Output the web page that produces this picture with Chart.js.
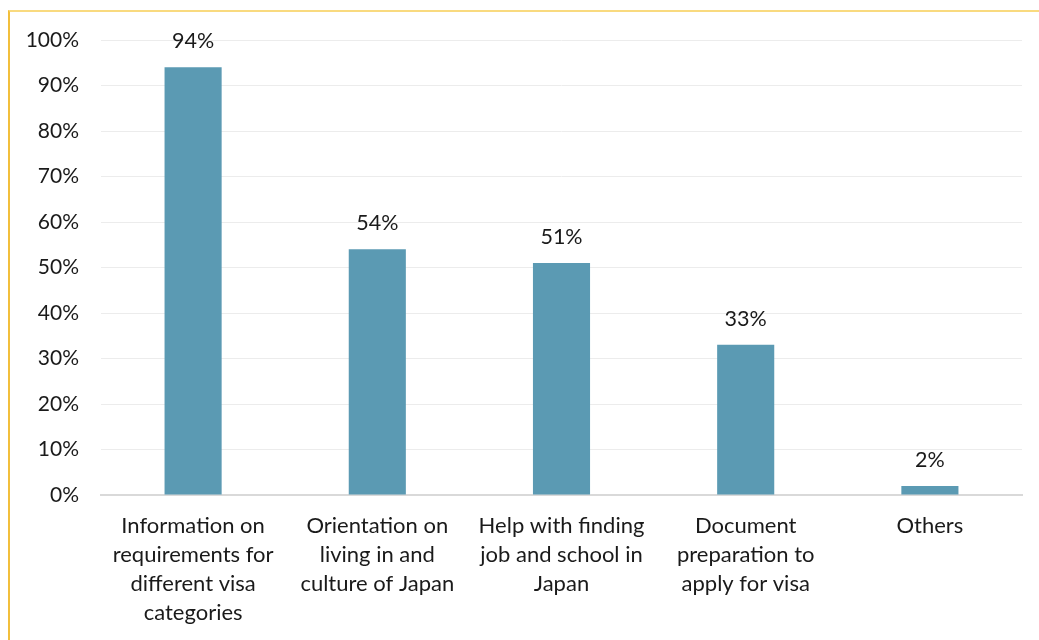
<!DOCTYPE html>
<html>
<head>
<meta charset="utf-8">
<script src="https://cdn.jsdelivr.net/npm/chart.js@4"></script>
<style>
  html, body { margin: 0; padding: 0; background: #fff; }
  #frame {
    position: absolute; left: 8px; top: 10px; right: 0; bottom: 0;
    border-top: 2px solid #f9da7f;
    border-left: 2px solid #f2bf3c;
  }
  #wrap { position: absolute; left: 0; top: 0; width: 1039px; height: 640px; }
</style>
</head>
<body>
<div id="frame"></div>
<div id="wrap"><canvas id="chart" width="1039" height="640"></canvas></div>
<script>
const categories = [
  ['Information on', 'requirements for', 'different visa', 'categories'],
  ['Orientation on', 'living in and', 'culture of Japan'],
  ['Help with finding', 'job and school in', 'Japan'],
  ['Document', 'preparation to', 'apply for visa'],
  ['Others']
];
const shares = [94, 54, 51, 33, 2];
const yTicks = [0, 10, 20, 30, 40, 50, 60, 70, 80, 90, 100];

const FONT = 'Lato, "Open Sans", sans-serif';

// percentage labels above each bar
const valueLabels = {
  id: 'valueLabels',
  afterDatasetsDraw(chart){
    const ctx = chart.ctx;
    const meta = chart.getDatasetMeta(0);
    ctx.save();
    ctx.font = '21.5px ' + FONT;
    ctx.fillStyle = '#1a1a1a';
    ctx.textAlign = 'center';
    ctx.textBaseline = 'middle';
    meta.data.forEach((bar, i) => {
      ctx.fillText(shares[i] + '%', bar.x, bar.y - 26);
    });
    ctx.restore();
  }
};

new Chart(document.getElementById('chart'), {
  type: 'bar',
  data: {
    labels: categories,
    datasets: [{
      data: shares,
      backgroundColor: '#5b9ab3',
      barPercentage: 0.62,
      categoryPercentage: 0.5
    }]
  },
  options: {
    responsive: false,
    animation: false,
    layout: { padding: { left: 0, top: 40, right: 17, bottom: 0 } },
    plugins: { legend: { display: false }, tooltip: { enabled: false } },
    scales: {
      x: {
        grid: { display: false, drawTicks: false },
        border: { color: '#d9d9d9', width: 2 },
        ticks: {
          color: '#1a1a1a',
          font: { family: FONT, size: 22, lineHeight: '29px' },
          padding: 16,
          maxRotation: 0,
          autoSkip: false
        },
        afterFit(s){ s.height = 145; }
      },
      y: {
        min: 0,
        max: 100,
        afterBuildTicks(s){ s.ticks = yTicks.map(v => ({ value: v })); },
        grid: { color: '#ececec', lineWidth: 1, drawTicks: false },
        border: { display: false },
        ticks: {
          color: '#1a1a1a',
          font: { family: FONT, size: 21 },
          padding: 22,
          callback: v => v + '%'
        },
        afterFit(s){ s.width = 101; }
      }
    }
  },
  plugins: [valueLabels]
});
</script>
</body>
</html>
